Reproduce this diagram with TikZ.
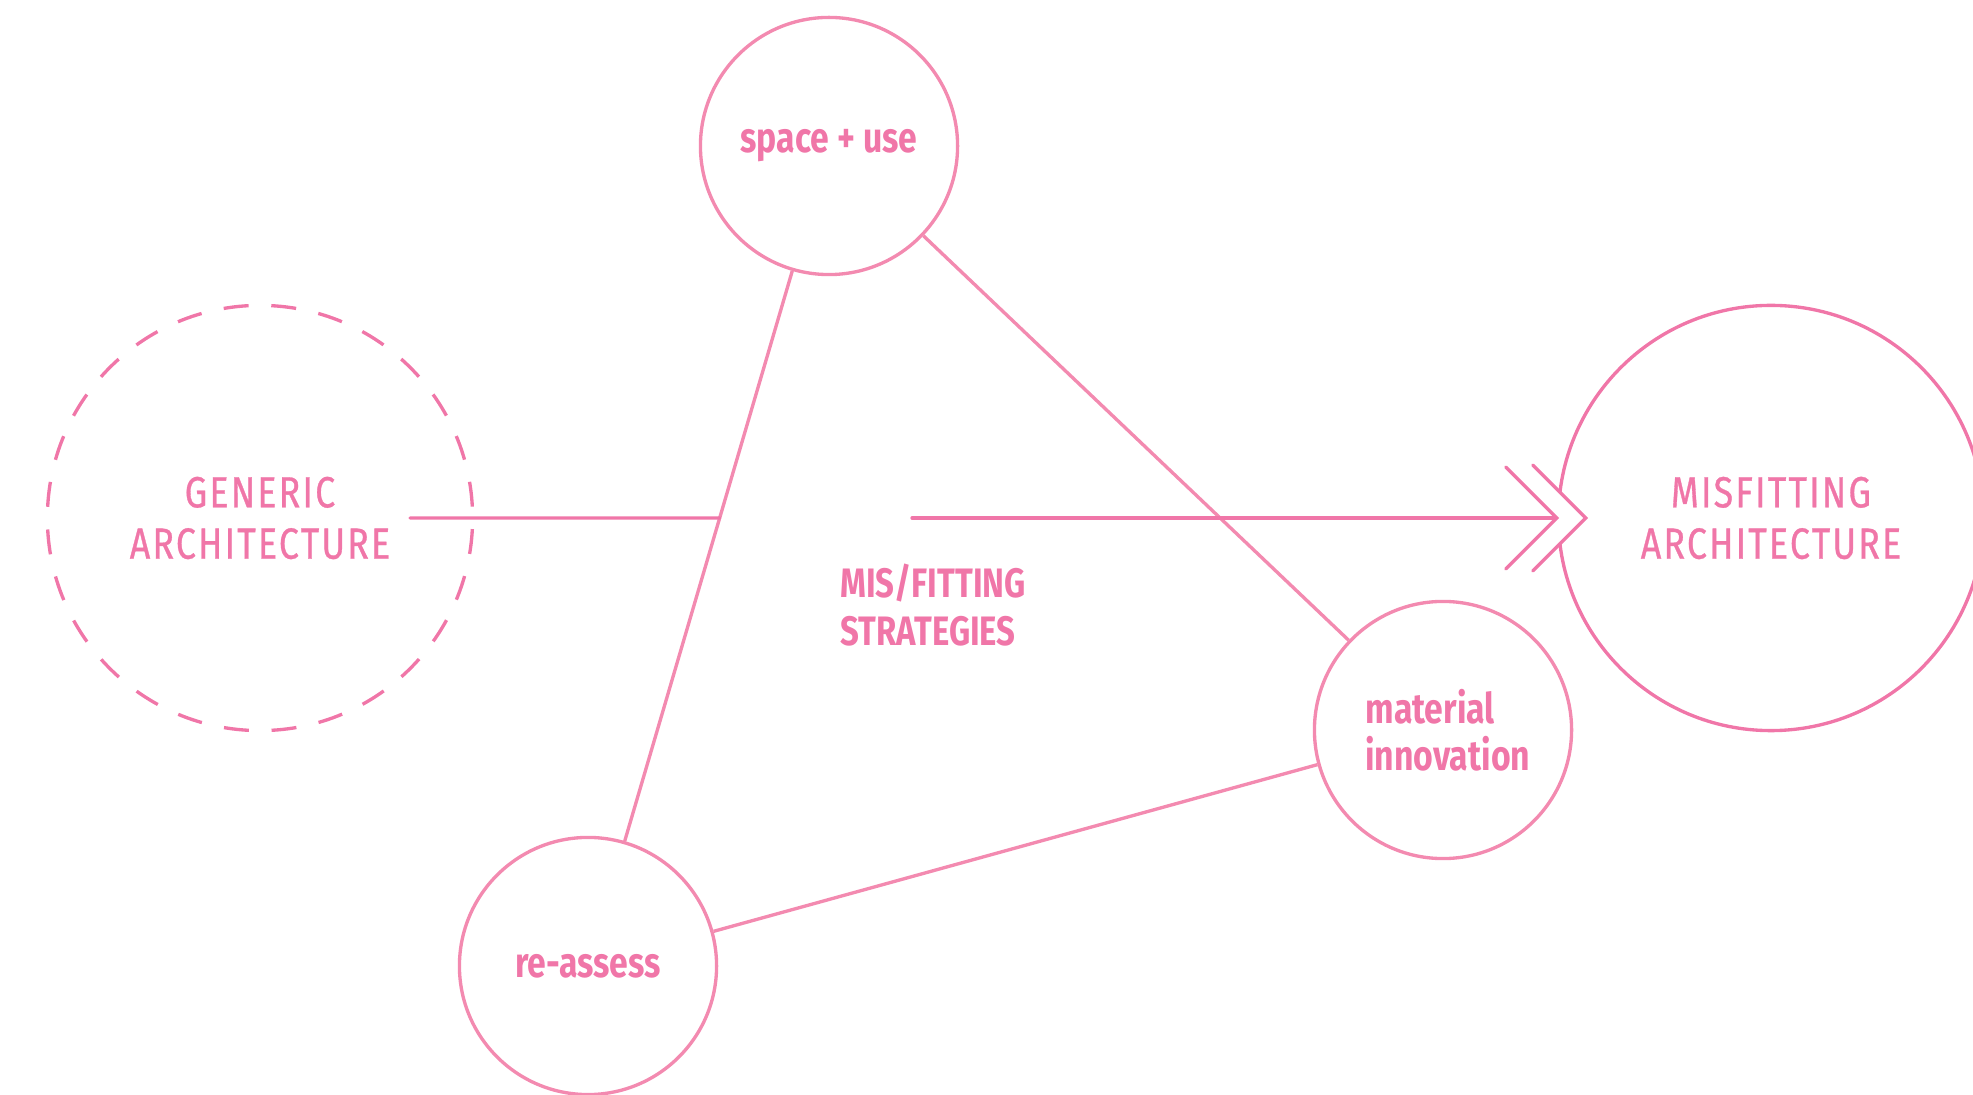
\documentclass[tikz,border=0pt]{standalone}
\usepackage{fontspec}
\usepackage{tikz}
\usetikzlibrary{shapes,arrows,positioning,calc}
\usepackage{xcolor}

\setmainfont{Fira Sans}
\newfontfamily\capsfont{Fira Sans}[FakeStretch=0.82,LetterSpace=5,FakeBold=0.7]
\newfontfamily\labelfont{Fira Sans}[FakeStretch=0.80]

\definecolor{pinkdark}{RGB}{240,118,168}
\definecolor{pinklight}{RGB}{243,138,176}

\tikzset{
  bigcircle/.style={circle, draw=pinkdark, line width=0.95pt, minimum size=4.25cm,
    inner sep=0pt, text=pinkdark, align=center,
    font=\capsfont\fontsize{12.4}{14.6}\selectfont},
  smallcircle/.style={circle, draw=pinklight, line width=0.95pt, minimum size=2.57cm,
    inner sep=0pt, text=pinkdark,
    font=\labelfont\bfseries\fontsize{12}{13.4}\selectfont},
  link/.style={draw=pinklight, line width=0.95pt},
  flow/.style={draw=pinkdark, line width=0.95pt, line cap=round}
}

\begin{document}
\begin{tikzpicture}[x=0.01cm, y=-0.01cm]
                    \useasboundingbox (0,0) rectangle (1973,1095);

                    % Start and end states
                    \node[bigcircle, dashed, dash pattern=on 0.25cm off 0.227cm, dash phase=0.3635cm] (generic) at (260,518) {GENERIC\\ARCHITECTURE};
                    \node[bigcircle] (misfit) at (1771,518) {MISFITTING\\ARCHITECTURE};

                    % Strategy triangle
                    \node[smallcircle] (space) at (829,146) {space + use};
                    \node[smallcircle] (reassess) at (588,966) {re-assess};
                    \node[smallcircle, align=left, text width=1.55cm] (material) at (1443,730) {material\\innovation};
                    \draw[link] (space) -- (reassess);
                    \draw[link] (space) -- (material);
                    \draw[link] (reassess) -- (material);

                    \node[anchor=west, align=left, text=pinkdark,
                      font=\labelfont\bfseries\fontsize{11.7}{13.7}\selectfont] (strategies) at (828,605) {MIS/FITTING\\STRATEGIES};

                    % Main flow line
                    \coordinate (start) at (410,518);
                    \coordinate (cross) at (intersection of space.center--reassess.center and generic.center--misfit.center);
                    \coordinate (resume) at (912,518);
                    \draw[flow] (start) -- (cross);
                    \draw[flow] (resume) -- (misfit.west);

                    % Double chevron head
                    \coordinate (tip) at ($(misfit.west)+(29,0)$);
                    \fill[white] ($(tip)+(-53,-53)$) -- (tip) -- ($(tip)+(-53,53)$)
                      -- ($(misfit.west)+(-51,51)$) -- (misfit.west) -- ($(misfit.west)+(-51,-51)$) -- cycle;
                    \draw[flow] ($(misfit.west)+(-51,-51)$) -- (misfit.west) -- ($(misfit.west)+(-51,51)$);
                    \draw[flow] ($(tip)+(-53,-53)$) -- (tip) -- ($(tip)+(-53,53)$);
                \end{tikzpicture}
\end{document}
